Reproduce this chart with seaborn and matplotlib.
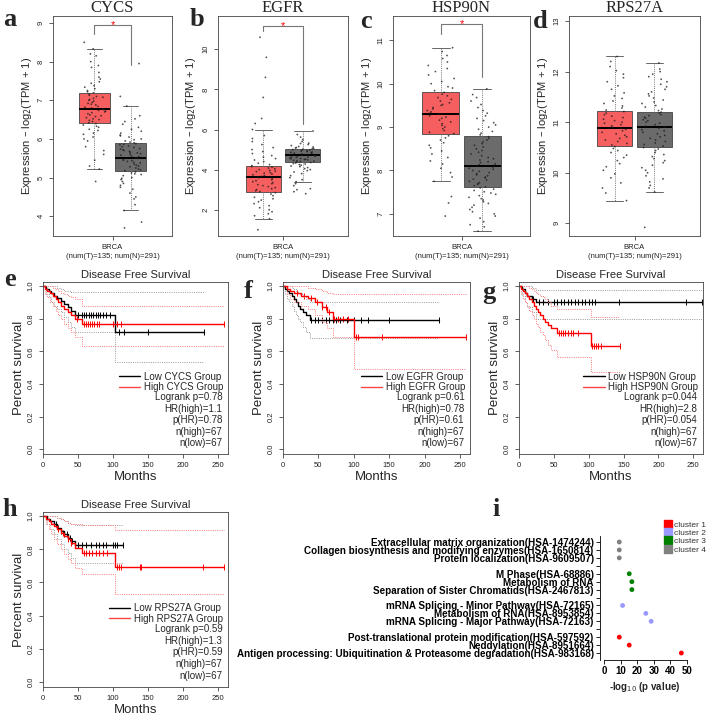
import numpy as np
import pandas as pd
import matplotlib
matplotlib.use("Agg")
import matplotlib.pyplot as plt
import seaborn as sns
from matplotlib.lines import Line2D

# ---------------- DATA ----------------
genes = ["CYCS", "EGFR", "HSP90N", "RPS27A"]
group_labels = ["Tumor", "Normal"]
box_xlabel = "BRCA\n(num(T)=135; num(N)=291)"

# box summaries: [lower whisker, Q1, median, Q3, upper whisker]
cycs_tumor_box = [5.22, 6.40, 6.78, 7.20, 8.33]
cycs_normal_box = [4.15, 5.17, 5.52, 5.90, 6.85]
egfr_tumor_box = [1.55, 2.90, 3.62, 4.18, 6.00]
egfr_normal_box = [3.40, 4.38, 4.72, 5.05, 5.92]
hsp_tumor_box = [7.75, 8.85, 9.30, 9.80, 10.83]
hsp_normal_box = [6.60, 7.62, 8.10, 8.80, 9.88]
rps_tumor_box = [9.45, 10.52, 10.88, 11.23, 12.30]
rps_normal_box = [9.62, 10.50, 10.90, 11.20, 12.17]

# individual samples (approximate readings)
cycs_tumor_pts = [4.9, 5.22, 5.3, 5.45, 5.6, 5.7, 5.8, 5.95, 6.0, 6.05, 6.12, 6.15, 6.22, 6.25,
                  6.3, 6.33, 6.36, 6.4, 6.42, 6.45, 6.48, 6.5, 6.52, 6.55, 6.58, 6.6, 6.62, 6.65,
                  6.68, 6.7, 6.72, 6.74, 6.76, 6.78, 6.8, 6.82, 6.84, 6.88, 6.9, 6.92, 6.95,
                  6.98, 7.0, 7.02, 7.05, 7.08, 7.1, 7.13, 7.16, 7.19, 7.22, 7.25, 7.3, 7.34,
                  7.38, 7.44, 7.48, 7.55, 7.6, 7.72, 7.85, 7.9, 8.0, 8.15, 8.2, 8.33, 8.5]
cycs_normal_pts = [3.7, 3.85, 4.15, 4.3, 4.45, 4.5, 4.6, 4.7, 4.75, 4.8, 4.85, 4.9, 4.95, 4.98,
                   5.0, 5.05, 5.08, 5.1, 5.12, 5.15, 5.18, 5.2, 5.22, 5.25, 5.28, 5.3, 5.32,
                   5.35, 5.38, 5.4, 5.42, 5.44, 5.45, 5.48, 5.5, 5.5, 5.52, 5.54, 5.55, 5.58,
                   5.6, 5.62, 5.64, 5.65, 5.68, 5.7, 5.72, 5.74, 5.75, 5.78, 5.8, 5.82, 5.85,
                   5.86, 5.88, 5.9, 5.92, 5.95, 5.98, 6.0, 6.05, 6.08, 6.1, 6.15, 6.2, 6.25,
                   6.3, 6.38, 6.45, 6.52, 6.6, 6.85, 7.1, 7.95]
egfr_tumor_pts = [1.0, 1.55, 1.7, 1.8, 1.9, 2.0, 2.1, 2.2, 2.3, 2.4, 2.48, 2.55, 2.62, 2.7,
                  2.78, 2.85, 2.9, 2.95, 3.0, 3.05, 3.1, 3.15, 3.2, 3.25, 3.3, 3.35, 3.4, 3.45,
                  3.5, 3.55, 3.6, 3.62, 3.66, 3.7, 3.74, 3.78, 3.82, 3.85, 3.9, 3.92, 3.96,
                  4.0, 4.04, 4.08, 4.12, 4.15, 4.2, 4.25, 4.32, 4.4, 4.48, 4.55, 4.62, 4.7,
                  4.8, 4.9, 5.0, 5.1, 5.25, 5.4, 5.55, 5.7, 6.0, 6.3, 6.55, 7.6, 8.6, 9.6, 10.6]
egfr_normal_pts = [2.8, 2.9, 3.0, 3.05, 3.2, 3.3, 3.4, 3.5, 3.6, 3.7, 3.8, 3.88, 3.95, 4.0,
                   4.05, 4.1, 4.15, 4.18, 4.22, 4.25, 4.28, 4.3, 4.33, 4.36, 4.38, 4.4, 4.42,
                   4.44, 4.46, 4.48, 4.5, 4.52, 4.54, 4.56, 4.58, 4.6, 4.62, 4.64, 4.66, 4.68,
                   4.7, 4.72, 4.74, 4.75, 4.78, 4.8, 4.82, 4.84, 4.86, 4.88, 4.9, 4.92, 4.94,
                   4.96, 4.98, 5.0, 5.02, 5.04, 5.06, 5.08, 5.1, 5.13, 5.15, 5.2, 5.25, 5.3,
                   5.32, 5.4, 5.5, 5.62, 5.75, 5.92]
hsp_tumor_pts = [6.95, 7.25, 7.4, 7.75, 7.85, 7.95, 8.05, 8.15, 8.22, 8.3, 8.38, 8.45, 8.52,
                 8.58, 8.64, 8.7, 8.75, 8.8, 8.85, 8.88, 8.92, 8.96, 9.0, 9.04, 9.08, 9.12,
                 9.16, 9.2, 9.23, 9.26, 9.3, 9.32, 9.35, 9.38, 9.42, 9.45, 9.5, 9.52, 9.56,
                 9.6, 9.64, 9.68, 9.72, 9.76, 9.8, 9.84, 9.9, 9.93, 10.0, 10.05, 10.12, 10.2,
                 10.28, 10.35, 10.42, 10.5, 10.58, 10.65, 10.74, 10.83]
hsp_normal_pts = [6.6, 6.7, 6.75, 6.82, 6.9, 6.95, 7.0, 7.05, 7.1, 7.15, 7.2, 7.24, 7.28,
                  7.32, 7.35, 7.38, 7.42, 7.45, 7.48, 7.51, 7.54, 7.57, 7.6, 7.62, 7.65, 7.68,
                  7.7, 7.72, 7.75, 7.78, 7.8, 7.83, 7.85, 7.88, 7.9, 7.93, 7.95, 7.98, 8.0,
                  8.03, 8.05, 8.08, 8.1, 8.13, 8.15, 8.18, 8.2, 8.24, 8.27, 8.3, 8.34, 8.38,
                  8.42, 8.46, 8.5, 8.54, 8.58, 8.62, 8.66, 8.7, 8.74, 8.78, 8.82, 8.86, 8.9,
                  8.95, 9.0, 9.05, 9.1, 9.15, 9.2, 9.26, 9.32, 9.38, 9.45, 9.52, 9.6, 9.68,
                  9.75, 9.88]
rps_tumor_pts = [9.45, 9.6, 9.7, 9.8, 9.9, 9.98, 10.05, 10.12, 10.18, 10.24, 10.3, 10.35,
                 10.4, 10.44, 10.48, 10.52, 10.55, 10.58, 10.62, 10.65, 10.68, 10.71, 10.74,
                 10.77, 10.8, 10.83, 10.86, 10.88, 10.9, 10.93, 10.95, 10.98, 11.0, 11.03,
                 11.06, 11.09, 11.12, 11.15, 11.18, 11.21, 11.24, 11.28, 11.32, 11.37, 11.42,
                 11.47, 11.52, 11.58, 11.65, 11.72, 11.8, 11.88, 11.95, 12.02, 12.1, 12.2, 12.3]
rps_normal_pts = [8.92, 9.62, 9.7, 9.75, 9.82, 9.88, 9.94, 10.0, 10.05, 10.1, 10.15, 10.2,
                  10.24, 10.28, 10.32, 10.36, 10.4, 10.44, 10.47, 10.5, 10.53, 10.56, 10.59,
                  10.62, 10.65, 10.68, 10.71, 10.74, 10.77, 10.8, 10.83, 10.85, 10.88, 10.9,
                  10.92, 10.95, 10.98, 11.0, 11.03, 11.05, 11.08, 11.1, 11.13, 11.15, 11.18,
                  11.2, 11.23, 11.26, 11.3, 11.33, 11.37, 11.4, 11.44, 11.48, 11.52, 11.56,
                  11.6, 11.65, 11.7, 11.75, 11.8, 11.85, 11.9, 11.95, 12.0, 12.05, 12.17]

# significance brackets: [top, tumor end, normal end]; None = not significant
cycs_bracket = [8.95, 8.72, 7.9]
egfr_bracket = [11.15, 10.9, 6.28]
hsp_bracket = [11.37, 11.14, 10.16]
rps_bracket = None

box_ylims = [(3.49, 9.18), (0.69, 11.66), (6.49, 11.56), (8.75, 13.1)]
box_yticks = [[4, 5, 6, 7, 8, 9], [2, 4, 6, 8, 10], [7, 8, 9, 10, 11], [9, 10, 11, 12, 13]]

# ---- Disease free survival (Kaplan-Meier readings) ----
# CYCS
e_low_t = [0, 4, 8, 12, 16, 20, 25, 30, 35, 40, 45, 103, 230]
e_low_s = [1.0, 0.985, 0.97, 0.955, 0.94, 0.925, 0.91, 0.89, 0.87, 0.85, 0.82, 0.72, 0.72]
e_low_lo = [1.0, 0.95, 0.93, 0.9, 0.88, 0.86, 0.84, 0.81, 0.78, 0.75, 0.72, 0.535, 0.535]
e_low_hi = [1.0, 1.0, 1.0, 1.0, 1.0, 0.99, 0.98, 0.97, 0.97, 0.965, 0.965, 0.965, 0.965]
e_low_cens = [50, 55, 58, 62, 65, 68, 72, 75, 78, 82, 86, 90, 95, 108, 115, 150, 230]
e_high_t = [0, 3, 6, 10, 14, 18, 22, 26, 30, 35, 40, 45, 55, 258]
e_high_s = [1.0, 0.985, 0.97, 0.955, 0.94, 0.92, 0.9, 0.88, 0.86, 0.84, 0.82, 0.8, 0.765, 0.765]
e_high_lo = [1.0, 0.95, 0.93, 0.9, 0.88, 0.85, 0.82, 0.8, 0.77, 0.74, 0.72, 0.69, 0.635, 0.635]
e_high_hi = [1.0, 1.0, 1.0, 1.0, 0.99, 0.98, 0.97, 0.96, 0.95, 0.94, 0.93, 0.92, 0.88, 0.88]
e_high_cens = [48, 58, 61, 64, 67, 70, 73, 77, 80, 100, 106, 112, 258]
e_stats = ["Logrank p=0.78", "HR(high)=1.1", "p(HR)=0.78", "n(high)=67", "n(low)=67"]

# EGFR
f_low_t = [0, 3, 6, 9, 12, 15, 18, 21, 24, 28, 32, 38, 220]
f_low_s = [1.0, 0.985, 0.97, 0.955, 0.94, 0.92, 0.9, 0.88, 0.86, 0.84, 0.82, 0.79, 0.79]
f_low_lo = [1.0, 0.95, 0.92, 0.9, 0.88, 0.85, 0.82, 0.8, 0.78, 0.75, 0.72, 0.68, 0.68]
f_low_hi = [1.0, 1.0, 1.0, 1.0, 0.99, 0.98, 0.97, 0.96, 0.95, 0.93, 0.92, 0.9, 0.9]
f_low_cens = [40, 45, 50, 55, 60, 65, 70, 75, 80, 90, 100, 110, 120, 150, 220]
f_high_t = [0, 5, 10, 15, 25, 35, 45, 55, 62, 70, 100, 258]
f_high_s = [1.0, 0.985, 0.97, 0.955, 0.94, 0.925, 0.9, 0.87, 0.84, 0.8, 0.69, 0.69]
f_high_lo = [1.0, 0.95, 0.92, 0.9, 0.88, 0.86, 0.82, 0.78, 0.74, 0.69, 0.49, 0.49]
f_high_hi = [1.0, 1.0, 1.0, 1.0, 1.0, 0.99, 0.98, 0.97, 0.96, 0.95, 0.95, 0.95]
f_high_cens = [20, 30, 40, 48, 55, 60, 65, 72, 78, 85, 92, 103, 106, 140, 258]
f_stats = ["Logrank p=0.61", "HR(high)=0.78", "p(HR)=0.61", "n(high)=67", "n(low)=67"]

# HSP90N
g_low_t = [0, 4, 8, 12, 18, 25, 262]
g_low_s = [1.0, 0.98, 0.96, 0.94, 0.92, 0.9, 0.9]
g_low_lo = [1.0, 0.94, 0.9, 0.87, 0.84, 0.8, 0.8]
g_low_hi = [1.0, 1.0, 1.0, 1.0, 0.99, 0.975, 0.975]
g_low_cens = [20, 28, 35, 42, 50, 55, 60, 65, 70, 75, 80, 85, 90, 95, 100, 105, 109, 144, 240, 262]
g_high_t = [0, 3, 6, 9, 12, 15, 18, 21, 24, 27, 30, 34, 38, 42, 46, 55, 103, 145]
g_high_s = [1.0, 0.985, 0.97, 0.955, 0.94, 0.92, 0.9, 0.88, 0.86, 0.84, 0.82, 0.8, 0.78, 0.76,
            0.74, 0.71, 0.635, 0.635]
g_high_lo = [1.0, 0.95, 0.92, 0.9, 0.88, 0.85, 0.82, 0.8, 0.77, 0.75, 0.72, 0.7, 0.67, 0.64,
             0.61, 0.565, 0.47, 0.47]
g_high_hi = [1.0, 1.0, 1.0, 1.0, 1.0, 0.99, 0.98, 0.97, 0.96, 0.95, 0.94, 0.93, 0.92, 0.9,
             0.88, 0.86, 0.81, 0.81]
g_high_cens = [57, 60, 63, 66, 70, 74, 78, 85, 105, 108, 111, 114, 117, 145]
g_stats = ["Logrank p=0.044", "HR(high)=2.8", "p(HR)=0.054", "n(high)=67", "n(low)=67"]

# RPS27A
h_low_t = [0, 5, 10, 15, 20, 25, 30, 35, 40, 45, 114]
h_low_s = [1.0, 0.985, 0.97, 0.95, 0.93, 0.91, 0.89, 0.87, 0.85, 0.825, 0.825]
h_low_lo = [1.0, 0.95, 0.92, 0.89, 0.86, 0.83, 0.8, 0.78, 0.75, 0.72, 0.72]
h_low_hi = [1.0, 1.0, 1.0, 1.0, 0.99, 0.98, 0.97, 0.96, 0.95, 0.945, 0.945]
h_low_cens = [18, 22, 26, 30, 34, 38, 42, 50, 55, 62, 68, 75, 80, 85, 90, 100, 103, 106, 114]
h_high_t = [0, 4, 8, 12, 16, 20, 25, 30, 35, 40, 45, 55, 103, 258]
h_high_s = [1.0, 0.985, 0.97, 0.955, 0.94, 0.92, 0.9, 0.88, 0.86, 0.84, 0.81, 0.775, 0.695, 0.695]
h_high_lo = [1.0, 0.95, 0.92, 0.89, 0.86, 0.83, 0.8, 0.77, 0.74, 0.72, 0.69, 0.65, 0.53, 0.53]
h_high_hi = [1.0, 1.0, 1.0, 1.0, 1.0, 0.99, 0.98, 0.97, 0.96, 0.955, 0.95, 0.945, 0.915, 0.915]
h_high_cens = [22, 28, 35, 40, 58, 62, 66, 70, 75, 80, 86, 92, 105, 108, 111, 138, 140, 229, 258]
h_stats = ["Logrank p=0.59", "HR(high)=1.3", "p(HR)=0.59", "n(high)=67", "n(low)=67"]

surv_title = "Disease Free Survival"
surv_xticks = [0, 50, 100, 150, 200, 250]
surv_yticks = [0.0, 0.2, 0.4, 0.6, 0.8, 1.0]

# ---- Reactome enrichment (panel i) ----
pathways = [
    "Extracellular matrix organization(HSA-1474244)",
    "Collagen biosynthesis and modifying enzymes(HSA-1650814)",
    "Protein localization(HSA-9609507)",
    "M Phase(HSA-68886)",
    "Metabolism of RNA",
    "Separation of Sister Chromatids(HSA-2467813)",
    "mRNA Splicing - Minor Pathway(HSA-72165)",
    "Metabolism of RNA(HSA-8953854)",
    "mRNA Splicing - Major Pathway(HSA-72163)",
    "Post-translational protein modification(HSA-597592)",
    "Neddylation(HSA-8951664)",
    "Antigen processing: Ubiquitination & Proteasome degradation(HSA-983168)",
]
neglog_p = [9.2, 9.2, 9.2, 15.2, 16.8, 16.8, 11.2, 25.2, 28.4, 9.2, 15.2, 46.6]
pathway_cluster = ["cluster 4"] * 3 + ["cluster 3"] * 3 + ["cluster 2"] * 3 + ["cluster 1"] * 3
cluster_names = ["cluster 1", "cluster 2", "cluster 3", "cluster 4"]
cluster_colors = ["#FF0000", "#9999FF", "#008000", "#808080"]
i_xticks = [0, 10, 20, 30, 40, 50]

# ---------------- STYLE ----------------
sns.set_theme(style="ticks")
plt.rcParams["font.family"] = ["Liberation Sans", "DejaVu Sans"]
plt.rcParams["axes.linewidth"] = 0.6
plt.rcParams["xtick.major.width"] = 0.6
plt.rcParams["ytick.major.width"] = 0.6
plt.rcParams["xtick.major.size"] = 3
plt.rcParams["ytick.major.size"] = 3

W, H = 708, 719
fig = plt.figure(figsize=(W / 100, H / 100), dpi=100)


def rect(x0, y0, x1, y1):
    return [x0 / W, 1 - y1 / H, (x1 - x0) / W, (y1 - y0) / H]


def letter(x, y, s):
    fig.text(x / W, 1 - y / H, s, fontfamily="Liberation Serif", fontweight="bold",
             fontsize=19, ha="center", va="center")


R_GRAY = "#444444"

# ---------------- BOX PANELS a-d ----------------
box_rects = [(53, 16, 172, 236), (218, 16, 348, 236), (393, 16, 530, 236), (569, 16, 700, 236)]
box_sets = [
    (cycs_tumor_box, cycs_normal_box, cycs_tumor_pts, cycs_normal_pts, cycs_bracket),
    (egfr_tumor_box, egfr_normal_box, egfr_tumor_pts, egfr_normal_pts, egfr_bracket),
    (hsp_tumor_box, hsp_normal_box, hsp_tumor_pts, hsp_normal_pts, hsp_bracket),
    (rps_tumor_box, rps_normal_box, rps_tumor_pts, rps_normal_pts, rps_bracket),
]
box_letters = [("a", 10, 20), ("b", 197, 20), ("c", 366, 22), ("d", 540, 21)]
np.random.seed(3)
for k, (gene, r, (tb, nb, tp, npts, br)) in enumerate(zip(genes, box_rects, box_sets)):
    ax = fig.add_axes(rect(*r))
    dfb = pd.DataFrame({"x": "BRCA",
                        "group": [group_labels[0]] * len(tb) + [group_labels[1]] * len(nb),
                        "value": tb + nb})
    sns.boxplot(data=dfb, x="x", y="value", hue="group", hue_order=group_labels,
                palette={"Tumor": "#F55F5F", "Normal": "#6B6B6B"}, saturation=1,
                width=0.8, gap=0.12,
                whis=(0, 100), showfliers=False, linecolor=R_GRAY, linewidth=0.6,
                medianprops=dict(color="black", linewidth=1.4),
                whiskerprops=dict(linestyle=(0, (1, 1.2)), color="#777777", linewidth=0.7),
                capprops=dict(color="#666666", linewidth=0.7),
                legend=False, ax=ax)
    dfp = pd.DataFrame({"x": "BRCA",
                        "group": [group_labels[0]] * len(tp) + [group_labels[1]] * len(npts),
                        "value": tp + npts})
    sns.stripplot(data=dfp, x="x", y="value", hue="group", hue_order=group_labels,
                  palette={"Tumor": "#1a1a1a", "Normal": "#1a1a1a"}, dodge=True, jitter=0.26,
                  size=1.3, alpha=0.75, linewidth=0, legend=False, ax=ax)
    if br is not None:
        top, tend, nend = br
        sns.lineplot(x=[-0.2, -0.2, 0.2, 0.2], y=[tend, top, top, nend], sort=False,
                     estimator=None, color="#777777", linewidth=0.8, ax=ax)
        ax.text(0, top, "*", color="red", fontsize=8, ha="center", va="center")
    ax.set_xlim(-0.66, 0.66)
    ax.set_ylim(*box_ylims[k])
    ax.set_yticks(box_yticks[k])
    ax.set_yticklabels([str(v) for v in box_yticks[k]], fontsize=5.5, rotation=90, va="center")
    ax.set_xticks([0])
    ax.set_xticklabels([box_xlabel], fontsize=5.5, linespacing=1.25)
    ax.set_xlabel("")
    ax.set_ylabel("Expression – log$_2$(TPM + 1)", fontsize=8, labelpad=3)
    ax.tick_params(colors=R_GRAY, labelcolor="#222222", length=3, pad=3)
    for sp in ax.spines.values():
        sp.set_visible(True)
        sp.set_color(R_GRAY)
    ax.set_title(gene, fontfamily="Liberation Serif", fontsize=12, pad=1)
    letter(box_letters[k][1], box_letters[k][2], box_letters[k][0])

# ---------------- SURVIVAL PANELS e-h ----------------
surv_panels = [
    ("CYCS", (43, 282, 228, 454), ("e", 10, 280),
     (e_low_t, e_low_s, e_low_lo, e_low_hi, e_low_cens),
     (e_high_t, e_high_s, e_high_lo, e_high_hi, e_high_cens), e_stats),
    ("EGFR", (283, 282, 470, 454), ("f", 248, 291),
     (f_low_t, f_low_s, f_low_lo, f_low_hi, f_low_cens),
     (f_high_t, f_high_s, f_high_lo, f_high_hi, f_high_cens), f_stats),
    ("HSP90N", (519, 282, 703, 454), ("g", 489, 292),
     (g_low_t, g_low_s, g_low_lo, g_low_hi, g_low_cens),
     (g_high_t, g_high_s, g_high_lo, g_high_hi, g_high_cens), g_stats),
    ("RPS27A", (43, 512, 228, 687), ("h", 10, 510),
     (h_low_t, h_low_s, h_low_lo, h_low_hi, h_low_cens),
     (h_high_t, h_high_s, h_high_lo, h_high_hi, h_high_cens), h_stats),
]


def step_value(t, s, x):
    idx = np.searchsorted(np.asarray(t), np.asarray(x), side="right") - 1
    return np.asarray(s)[np.clip(idx, 0, len(s) - 1)]


for gene, r, (lt, lx, ly), low, high, stats in surv_panels:
    ax = fig.add_axes(rect(*r))
    for (t, s, lo, hi, cens), col, cicol in [(low, "black", "#9a9a9a"), (high, "#FF0000", "#FF7a7a")]:
        for band in (lo, hi):
            sns.lineplot(x=t, y=band, sort=False, estimator=None, drawstyle="steps-post",
                         color=cicol, linewidth=0.7, linestyle=(0, (1, 1.3)), ax=ax)
        sns.lineplot(x=t, y=s, sort=False, estimator=None, drawstyle="steps-post",
                     color=col, linewidth=1.0, ax=ax)
        sns.scatterplot(x=cens, y=step_value(t, s, cens), marker="|", s=22, color=col,
                        linewidth=0.7, ax=ax, legend=False)
    ax.set_xlim(0, 264)
    ax.set_ylim(-0.03, 1.025)
    ax.set_xticks(surv_xticks)
    ax.set_xticklabels([str(v) for v in surv_xticks], fontsize=5.5)
    ax.set_yticks(surv_yticks)
    ax.set_yticklabels([f"{v:.1f}" for v in surv_yticks], fontsize=5.5, rotation=90, va="center")
    ax.tick_params(colors=R_GRAY, labelcolor="#222222", length=3, pad=3)
    for sp in ax.spines.values():
        sp.set_visible(True)
        sp.set_color(R_GRAY)
    ax.set_xlabel("Months", fontsize=9.5, labelpad=1)
    ax.set_ylabel("Percent survival", fontsize=9.5, labelpad=2)
    ax.set_title(surv_title, fontsize=8, pad=3)
    handles = [Line2D([], [], color="black", linewidth=1.0),
               Line2D([], [], color="#FF4444", linewidth=1.0)]
    ax.legend(handles, [f"Low {gene} Group", f"High {gene} Group"], loc="upper right",
              bbox_to_anchor=(0.975, 0.478), frameon=False, fontsize=7, handlelength=2.2,
              handletextpad=0.4, labelspacing=0.05, borderpad=0, borderaxespad=0)
    for j, line in enumerate(stats):
        ax.text(0.97, 0.331 - 0.0668 * j, line, transform=ax.transAxes, fontsize=7,
                ha="right", va="center")
    letter(lx, ly, lt)

# ---------------- PANEL i ----------------
slot = []
shift = 0
for j, c in enumerate(pathway_cluster):
    if j > 0 and c != pathway_cluster[j - 1]:
        shift += 1
    slot.append(j + shift)
n_slots = slot[-1] + 1
ylabels = [""] * n_slots
for sl, name in zip(slot, pathways):
    ylabels[sl] = name

ax = fig.add_axes(rect(600, 536, 690, 660))
sns.scatterplot(x=neglog_p, y=slot, hue=pathway_cluster, hue_order=cluster_names,
                palette=dict(zip(cluster_names, cluster_colors)), s=12, linewidth=0,
                legend=False, ax=ax)
ax.set_xlim(-2.4, 51.8)
ax.set_ylim(n_slots - 0.12, -0.76)
ax.set_yticks(range(n_slots))
ax.set_yticklabels(ylabels, fontsize=7.1, fontweight="bold")
ax.set_xticks(i_xticks)
ax.set_xticklabels([str(v) for v in i_xticks], fontsize=7, fontweight="bold")
ax.spines["top"].set_visible(False)
ax.spines["right"].set_visible(False)
ax.spines["bottom"].set_bounds(0, 50)
ax.spines["left"].set_color("black")
ax.spines["bottom"].set_color("black")
ax.tick_params(axis="both", length=3, width=0.6, pad=1.5, colors="black")
ax.set_xlabel("-log$_{10}$ (p value)", fontsize=7, fontweight="bold", labelpad=3)
ax.set_ylabel("")
leg_handles = [Line2D([], [], marker="s", linestyle="", markersize=5.5, color=c)
               for c in cluster_colors]
fig.legend(leg_handles, cluster_names, loc="upper left", bbox_to_anchor=(665 / W, 1 - 521 / H),
           frameon=False, fontsize=6, handlelength=0.8, handletextpad=0.3, labelspacing=0.05,
           borderpad=0, borderaxespad=0, labelcolor="#333333")
letter(496, 510, "i")

fig.savefig("out.png", dpi=100)
